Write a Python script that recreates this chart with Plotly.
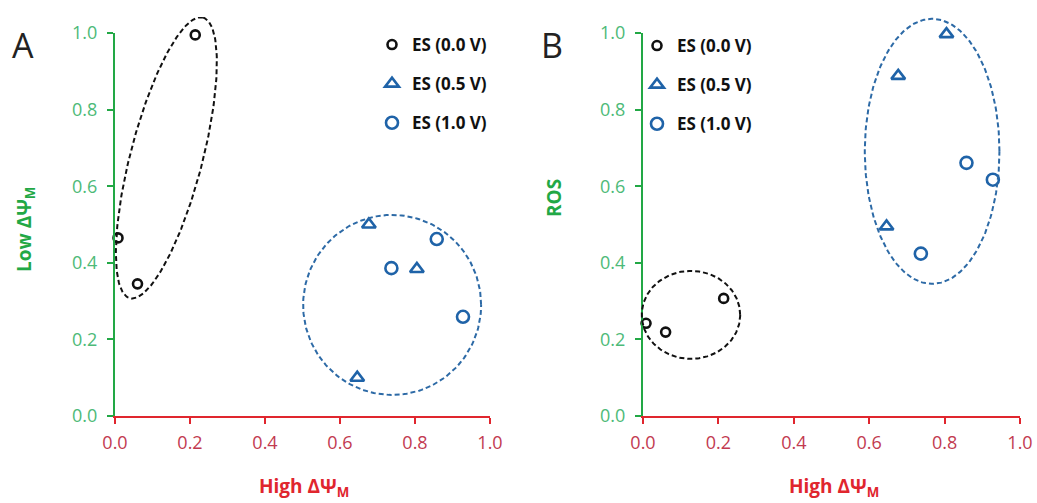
import numpy as np
import plotly.graph_objects as go

# ---------------- data ----------------
series_names = ["ES (0.0 V)", "ES (0.5 V)", "ES (1.0 V)"]
high_dpsi_00 = [0.008, 0.060, 0.214]
high_dpsi_05 = [0.677, 0.805, 0.646]
high_dpsi_10 = [0.737, 0.858, 0.928]
low_dpsi_00 = [0.465, 0.345, 0.995]
low_dpsi_05 = [0.500, 0.384, 0.100]
low_dpsi_10 = [0.386, 0.462, 0.259]
ros_00 = [0.242, 0.219, 0.307]
ros_05 = [0.888, 0.997, 0.495]
ros_10 = [0.424, 0.661, 0.617]
tick_vals = [0.0, 0.2, 0.4, 0.6, 0.8, 1.0]
tick_text = ["0.0", "0.2", "0.4", "0.6", "0.8", "1.0"]

# ---------------- styles ----------------
BLACK = "#111111"
BLUE = "#1f63a8"
BLUE_LINE = "#2d6aa6"
GREEN_AX = "#22a845"
GREEN_TX = "#4dba78"
RED_AX = "#e0262e"
RED_TX = "#c23a50"
FONT = "Open Sans"

W, H = 1037, 503
PXX = 375.0  # pixels per data unit (x)
PXY = 383.0  # pixels per data unit (y)


def fx(p):
    return p / W


def fy(p):
    return (H - p) / H


xdomA = [fx(115), fx(490)]
xdomB = [fx(643), fx(1020)]
ydom = [fy(416), fy(33)]
EXT = 16  # px extension of ellipse overlay axes
xdomA_e = [fx(115 - EXT), fx(490 + EXT)]
xdomB_e = [fx(643 - EXT), fx(1020 + EXT)]
ydom_e = [fy(416 + EXT), fy(33 - EXT)]
xr_e = [-EXT / PXX, 1 + EXT / PXX]
yr_e = [-EXT / PXY, 1 + EXT / PXY]


def ellipse(cx, cy, a_px, b_px, ang_deg, n=220):
    t = np.linspace(0, 2 * np.pi, n)
    th = np.radians(ang_deg)
    dx = a_px * np.cos(t) * np.cos(th) - b_px * np.sin(t) * np.sin(th)
    dy = a_px * np.cos(t) * np.sin(th) + b_px * np.sin(t) * np.cos(th)
    return cx + dx / PXX, cy + dy / PXY


fig = go.Figure()

# ellipses (grouping outlines) on invisible overlay axes so they are not clipped
ell_specs = [
    ("x3", "y3", 0.137, 0.674, 145, 36, 75.4, BLACK),
    ("x3", "y3", 0.739, 0.290, 89, 90, 0, BLUE_LINE),
    ("x4", "y4", 0.127, 0.264, 49, 44, 0, BLACK),
    ("x4", "y4", 0.767, 0.691, 67, 132.5, 0, BLUE_LINE),
]
for xa, ya, cx, cy, a, b, ang, col in ell_specs:
    ex, ey = ellipse(cx, cy, a, b, ang)
    fig.add_trace(go.Scatter(x=ex, y=ey, mode="lines", xaxis=xa, yaxis=ya,
                             line=dict(color=col, width=2, dash="5px,3px"),
                             hoverinfo="skip", showlegend=False))

marker_styles = [
    dict(symbol="circle-open", size=9, color=BLACK, line=dict(width=2.6, color=BLACK)),
    dict(symbol="triangle-up-open", size=12, color=BLUE, line=dict(width=2.6, color=BLUE)),
    dict(symbol="circle-open", size=12, color=BLUE, line=dict(width=2.6, color=BLUE)),
]

xs = [high_dpsi_00, high_dpsi_05, high_dpsi_10]
ysA = [low_dpsi_00, low_dpsi_05, low_dpsi_10]
ysB = [ros_00, ros_05, ros_10]

for i in range(3):
    fig.add_trace(go.Scatter(x=xs[i], y=ysA[i], mode="markers", name=series_names[i],
                             marker=marker_styles[i], xaxis="x", yaxis="y",
                             legend="legend", legendgroup="a%d" % i, cliponaxis=False))
for i in range(3):
    fig.add_trace(go.Scatter(x=xs[i], y=ysB[i], mode="markers", name=series_names[i],
                             marker=marker_styles[i], xaxis="x2", yaxis="y2",
                             legend="legend2", legendgroup="b%d" % i, cliponaxis=False))

xax = dict(range=[0, 1], tickvals=tick_vals, ticktext=tick_text, showgrid=False,
           zeroline=False, showline=True, linecolor=RED_AX, linewidth=2,
           ticks="outside", ticklen=6, tickwidth=2, tickcolor=RED_AX,
           tickfont=dict(family=FONT, size=18, color=RED_TX), ticklabelstandoff=3,
           fixedrange=True, automargin=False)
yax = dict(range=[0, 1], tickvals=tick_vals, ticktext=tick_text, showgrid=False,
           zeroline=False, showline=True, linecolor=GREEN_AX, linewidth=2,
           ticks="outside", ticklen=6, tickwidth=2, tickcolor=GREEN_AX,
           tickfont=dict(family=FONT, size=18, color=GREEN_TX), ticklabelstandoff=6,
           domain=ydom, fixedrange=True, automargin=False)
hid = dict(visible=False, fixedrange=True, automargin=False, showgrid=False, zeroline=False)

leg = dict(font=dict(family=FONT, size=17, color="#111111", weight="bold"),
           bgcolor="rgba(0,0,0,0)", xanchor="left", yanchor="top", tracegroupgap=14,
           traceorder="grouped", itemclick=False, itemdoubleclick=False)


def ann(text, x, y, size, color, angle=0):
    return dict(text=text, x=fx(x), y=fy(y), xref="paper", yref="paper",
                xanchor="center", yanchor="middle", showarrow=False, textangle=angle,
                font=dict(family=FONT, size=size, color=color))


fig.update_layout(
    width=W, height=H, autosize=False,
    margin=dict(l=0, r=0, t=0, b=0, pad=0, autoexpand=False),
    paper_bgcolor="white", plot_bgcolor="rgba(0,0,0,0)",
    font=dict(family=FONT),
    xaxis=dict(xax, domain=xdomA, anchor="y"),
    yaxis=dict(yax, anchor="x"),
    xaxis2=dict(xax, domain=xdomB, anchor="y2"),
    yaxis2=dict(yax, anchor="x2"),
    xaxis3=dict(hid, domain=xdomA_e, range=xr_e, anchor="y3"),
    yaxis3=dict(hid, domain=ydom_e, range=yr_e, anchor="x3"),
    xaxis4=dict(hid, domain=xdomB_e, range=xr_e, anchor="y4"),
    yaxis4=dict(hid, domain=ydom_e, range=yr_e, anchor="x4"),
    legend=dict(leg, x=fx(372), y=fy(27)),
    legend2=dict(leg, x=fx(637), y=fy(28)),
    annotations=[
        ann("A", 23, 45, 34, "#222222"),
        ann("B", 552, 45, 34, "#222222"),
        ann("<b>Low ΔΨ<sub>M</sub></b>", 25, 230, 19, GREEN_AX, -90),
        ann("<b>ROS</b>", 554, 198, 19, GREEN_AX, -90),
        ann("<b>High ΔΨ<sub>M</sub></b>", 304, 487, 19, RED_AX),
        ann("<b>High ΔΨ<sub>M</sub></b>", 834, 487, 19, RED_AX),
    ],
)

fig.write_html(
    "out.html",
    config={"displayModeBar": False, "staticPlot": True},
    post_script="document.body.style.margin='0';"
                "document.documentElement.style.overflow='hidden';"
                "document.body.style.overflow='hidden';",
)
